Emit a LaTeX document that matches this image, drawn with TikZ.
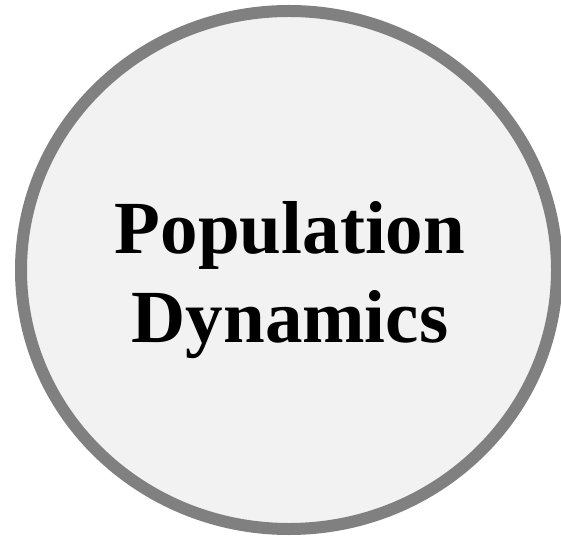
\documentclass[tikz,border=0pt]{standalone}
\usepackage{fontspec}
\setmainfont{Liberation Serif}
\usepackage{tikz}
\usetikzlibrary{positioning,shapes.geometric}
\definecolor{ringGray}{RGB}{128, 128, 128}
\definecolor{paperGray}{RGB}{242, 242, 242}
\definecolor{inkBlack}{RGB}{0, 0, 0}

\tikzset{
    topicring/.style={ellipse, draw=ringGray, line width=12pt, fill=paperGray,
        minimum width=536pt, minimum height=518pt, inner sep=0pt},
    topiclabel/.style={align=center, inner sep=0pt, text=inkBlack,
        font=\fontsize{75pt}{89pt}\selectfont\bfseries}
}

\begin{document}
\begin{tikzpicture}[x=1pt, y=1pt]
    \useasboundingbox (0,0) rectangle (561,538);
    % central topic
    \node[topicring] (popcircle) at (289,268) {};
    \node[topiclabel] (poptext) at ([xshift=1pt, yshift=-10pt]popcircle.center) {Population\\Dynamics};
\end{tikzpicture}
\end{document}
